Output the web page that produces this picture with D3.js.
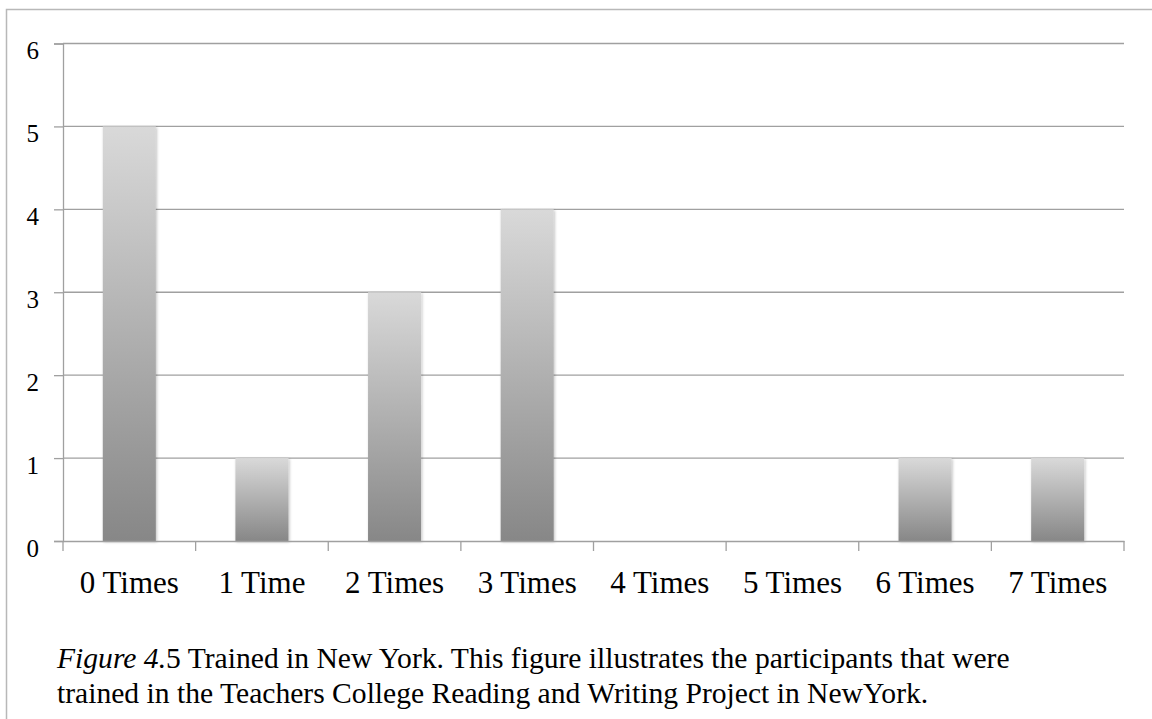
<!DOCTYPE html>
<html>
<head>
<meta charset="utf-8">
<script src="https://cdn.jsdelivr.net/npm/d3@7"></script>
<style>
  html, body { margin: 0; padding: 0; background: #fff; }
  svg { display: block; }
  text { font-family: "Liberation Serif", "Times New Roman", serif; fill: #000; }
</style>
</head>
<body>
<svg id="chart" width="1152" height="719"></svg>
<script>
const categories = ["0 Times", "1 Time", "2 Times", "3 Times", "4 Times", "5 Times", "6 Times", "7 Times"];
const values = [5, 1, 3, 4, 0, 0, 1, 1];
const yTicks = [0, 1, 2, 3, 4, 5, 6];
const captionLine1Italic = "Figure 4.";
const captionLine1Rest = "5 Trained in New York. This figure illustrates the participants that were";
const captionLine2 = "trained in the Teachers College Reading and Writing Project in NewYork.";

const svg = d3.select("#chart");
const plotLeft = 63, plotRight = 1124, plotTop = 43.5, plotBottom = 541;

// frame
svg.append("path")
  .attr("d", "M6.5,719 L6.5,9.5 L1152,9.5")
  .attr("fill", "none").attr("stroke", "#b8b8b8").attr("stroke-width", 1.5);

const x = d3.scaleBand().domain(categories).range([plotLeft, plotRight]).paddingInner(0).paddingOuter(0);
const y = d3.scaleLinear().domain([0, 6]).range([plotBottom, plotTop]);

const defs = svg.append("defs");
const grad = defs.append("linearGradient").attr("id", "barGrad")
  .attr("x1", 0).attr("y1", 0).attr("x2", 0).attr("y2", 1);
grad.append("stop").attr("offset", "0%").attr("stop-color", "#d9d9d9");
grad.append("stop").attr("offset", "100%").attr("stop-color", "#878787");

const shadow = defs.append("filter").attr("id", "shadow")
  .attr("x", "-20%").attr("y", "-5%").attr("width", "140%").attr("height", "110%");
shadow.append("feGaussianBlur").attr("in", "SourceAlpha").attr("stdDeviation", 1.5).attr("result", "b");
shadow.append("feOffset").attr("in", "b").attr("dx", 1).attr("dy", 1).attr("result", "o");
shadow.append("feComponentTransfer").attr("in", "o").attr("result", "s")
  .append("feFuncA").attr("type", "linear").attr("slope", 0.25);
const merge = shadow.append("feMerge");
merge.append("feMergeNode").attr("in", "s");
merge.append("feMergeNode").attr("in", "SourceGraphic");

// gridlines
svg.append("g").selectAll("line").data(yTicks.filter(d => d > 0)).join("line")
  .attr("x1", plotLeft).attr("x2", plotRight)
  .attr("y1", d => y(d)).attr("y2", d => y(d))
  .attr("stroke", "#a0a0a0").attr("stroke-width", 1.3);

// bars
const bw = x.bandwidth() * 0.4;
svg.append("g").selectAll("rect").data(categories.map((c, i) => ({c, v: values[i]})).filter(d => d.v > 0)).join("rect")
  .attr("x", d => x(d.c) + (x.bandwidth() - bw) / 2)
  .attr("y", d => y(d.v))
  .attr("width", bw)
  .attr("height", d => y(0) - y(d.v))
  .attr("fill", "url(#barGrad)")
  .attr("filter", "url(#shadow)");

// y axis
const yAxis = d3.axisLeft(y).tickValues(yTicks).tickSize(9).tickPadding(14).tickFormat(d3.format("d"));
const gy = svg.append("g").attr("transform", `translate(${plotLeft},0)`).call(yAxis);
gy.select(".domain").attr("stroke", "#a0a0a0").attr("stroke-width", 1.3);
gy.selectAll(".tick line").attr("stroke", "#a0a0a0").attr("stroke-width", 1.3);
gy.selectAll(".tick text").attr("font-size", 25)
  .attr("fill", "#000").attr("dy", "0.6em").attr("x", -24);

// x axis
const xAxis = d3.axisBottom(x).tickSize(0).tickPadding(0);
const gx = svg.append("g").attr("transform", `translate(0,${plotBottom})`).call(xAxis);
gx.select(".domain").attr("stroke", "#a0a0a0").attr("stroke-width", 1.3);
gx.selectAll(".tick text").attr("font-size", 31)
  .attr("fill", "#000").attr("y", 52).attr("dy", 0);
// category boundary ticks
const bounds = categories.map(c => x(c)).concat([plotRight]);
gx.append("g").selectAll("line").data(bounds).join("line")
  .attr("x1", d => d).attr("x2", d => d).attr("y1", 0).attr("y2", 10)
  .attr("stroke", "#a0a0a0").attr("stroke-width", 1.3);

// caption
const cap = svg.append("text").attr("x", 57).attr("y", 668).attr("font-size", 29.6);
cap.append("tspan").attr("font-style", "italic").text(captionLine1Italic);
cap.append("tspan").text(captionLine1Rest);
svg.append("text").attr("x", 57).attr("y", 703).attr("font-size", 29.6).text(captionLine2);
</script>
</body>
</html>
